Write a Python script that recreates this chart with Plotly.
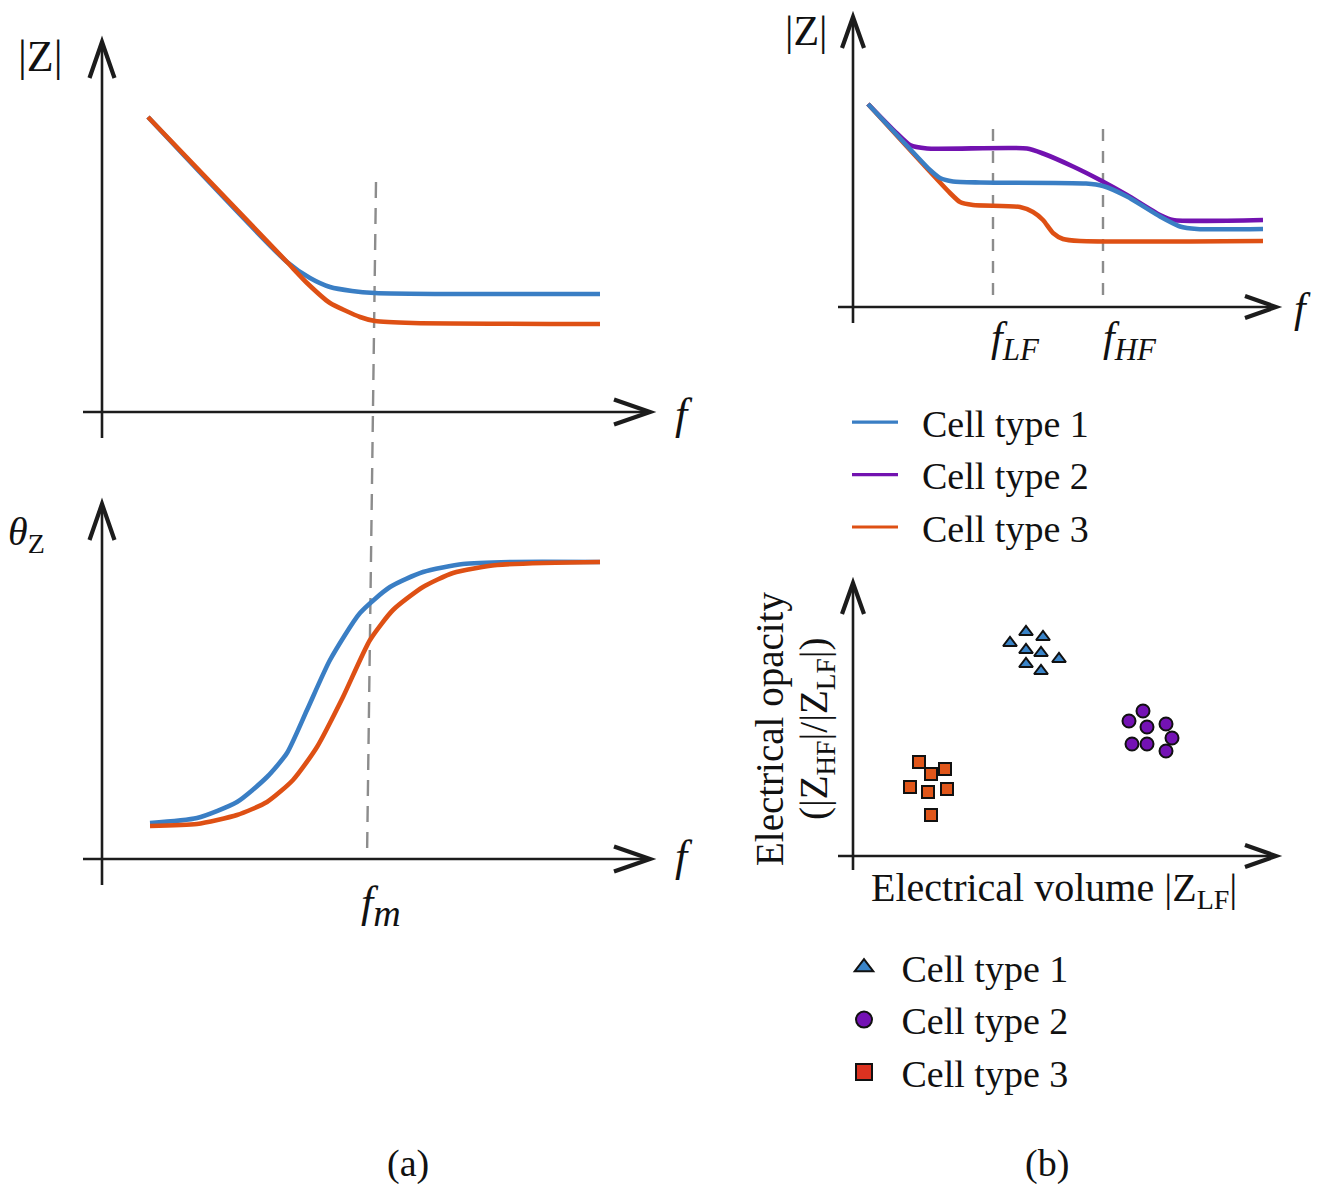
import plotly.graph_objects as go

W, H = 1329, 1184
S = 50.0  # px per data unit (same on every axis)

# ---------------- data (arbitrary units, f = log frequency) ----------------
# (a) top: |Z| versus f
a_f_blue = [0.92, 3.70, 4.16, 4.56, 5.00, 5.46, 6.96, 9.96]
a_z_blue = [5.90, 3.00, 2.68, 2.50, 2.42, 2.38, 2.36, 2.36]
a_f_orange = [0.92, 3.70, 4.10, 4.56, 5.16, 5.46, 6.22, 9.96]
a_z_orange = [5.90, 3.00, 2.58, 2.18, 1.90, 1.82, 1.78, 1.76]

# (a) bottom: phase versus f
a_f_blue_th = [0.96, 1.90, 2.70, 3.30, 3.70, 4.10, 4.56, 5.16, 5.76, 6.42, 7.22, 8.22, 9.96]
a_th_blue = [0.72, 0.82, 1.14, 1.64, 2.12, 2.98, 3.98, 4.92, 5.44, 5.74, 5.90, 5.94, 5.94]
a_f_orange_th = [0.96, 1.90, 2.70, 3.30, 3.82, 4.30, 4.82, 5.36, 5.82, 6.42, 7.02, 7.90, 9.96]
a_th_orange = [0.66, 0.70, 0.88, 1.14, 1.58, 2.24, 3.24, 4.38, 4.98, 5.44, 5.72, 5.88, 5.94]
fm_top, fm_bottom = 5.48, 5.30

# (b) top: |Z| versus f for three cell types
b_f_blue = [0.30, 1.28, 1.54, 1.74, 2.00, 2.54, 4.66, 5.00, 5.48, 6.14, 6.54, 6.88, 8.20]
b_z_blue = [4.06, 3.01, 2.74, 2.58, 2.51, 2.49, 2.47, 2.42, 2.21, 1.81, 1.61, 1.56, 1.56]
b_f_purple = [0.30, 0.88, 1.14, 1.48, 3.48, 3.80, 4.40, 4.94, 5.48, 6.14, 6.40, 8.20]
b_z_purple = [4.06, 3.47, 3.24, 3.17, 3.17, 3.07, 2.81, 2.54, 2.24, 1.84, 1.74, 1.74]
b_f_orange = [0.30, 1.94, 2.14, 2.40, 3.34, 3.60, 3.80, 4.00, 4.20, 4.54, 8.20]
b_z_orange = [4.06, 2.28, 2.10, 2.04, 2.00, 1.90, 1.74, 1.48, 1.36, 1.32, 1.32]
f_LF, f_HF = 2.80, 5.00

# (b) bottom: electrical opacity versus electrical volume
vol_1 = [3.14, 3.46, 3.80, 3.46, 3.76, 4.12, 3.46, 3.76]
opa_1 = [4.26, 4.48, 4.38, 4.12, 4.06, 3.94, 3.84, 3.70]
vol_2 = [5.80, 5.52, 5.88, 6.26, 6.38, 5.58, 5.88, 6.26]
opa_2 = [2.90, 2.70, 2.58, 2.64, 2.36, 2.24, 2.24, 2.10]
vol_3 = [1.32, 1.84, 1.56, 1.14, 1.50, 1.88, 1.56]
opa_3 = [1.88, 1.74, 1.64, 1.38, 1.28, 1.34, 0.82]

names = ["Cell type 1", "Cell type 2", "Cell type 3"]

# ---------------- styling ----------------
BLUE, PURPLE, ORANGE = "#3a7ec4", "#7212b0", "#de5014"
BLUE_M, PURPLE_M, ORANGE_M, RED_KEY = "#3a84c8", "#7412b4", "#e0561a", "#dc3220"
INK = "#1c1c1c"
GREY = "#8c8c8c"
FONT = "Liberation Serif"
LW = 4.6
NB = "\u00a0"

ORIG = {"a_x": 102, "a_top": 412, "a_bot": 859, "b_x": 853, "b_top": 307, "b_sc": 856}


def xr(ox):
    return [-ox / S, (W - ox) / S]


def yr(oy):
    return [-(H - oy) / S, oy / S]


fig = go.Figure()


def curve(x, y, xa, ya, color, group=None, smoothing=0.6):
    fig.add_trace(go.Scatter(x=x, y=y, mode="lines", xaxis=xa, yaxis=ya, showlegend=False,
                             legendgroup=group, hoverinfo="skip",
                             line=dict(color=color, width=LW, shape="spline", smoothing=smoothing)))


# panel (a)
curve(a_f_blue, a_z_blue, "x", "y", BLUE)
curve(a_f_orange, a_z_orange, "x", "y", ORANGE, smoothing=0.5)
curve(a_f_blue_th, a_th_blue, "x", "y2", BLUE)
curve(a_f_orange_th, a_th_orange, "x", "y2", ORANGE)

# panel (b) top
curve(b_f_purple, b_z_purple, "x2", "y3", PURPLE, "l2")
curve(b_f_orange, b_z_orange, "x2", "y3", ORANGE, "l3")
curve(b_f_blue, b_z_blue, "x2", "y3", BLUE, "l1")

# panel (b) bottom scatter
mk_line = dict(color="#111111", width=2)
sc = [(vol_1, opa_1, "triangle-up", 12, BLUE_M, BLUE_M),
      (vol_2, opa_2, "circle", 13, PURPLE_M, PURPLE_M),
      (vol_3, opa_3, "square", 12, ORANGE_M, RED_KEY)]
for i, (vx, vy, sym, sz, col, keycol) in enumerate(sc):
    fig.add_trace(go.Scatter(x=vx, y=vy, mode="markers", xaxis="x2", yaxis="y4", name=names[i],
                             showlegend=False, legendgroup=f"m{i+1}",
                             marker=dict(symbol=sym, size=sz, color=col, line=mk_line)))

# legend keys (line legend and marker legend)
for i, col in enumerate([BLUE, PURPLE, ORANGE]):
    fig.add_trace(go.Scatter(x=[None], y=[None], mode="lines", xaxis="x2", yaxis="y3",
                             name=NB + NB + names[i], legend="legend", legendgroup=f"l{i+1}",
                             legendrank=i + 1, line=dict(color=col, width=3.2)))
for i, (vx, vy, sym, sz, col, keycol) in enumerate(sc):
    fig.add_trace(go.Scatter(x=[None], y=[None], mode="markers", xaxis="x2", yaxis="y4",
                             name=NB + names[i], legend="legend2", legendgroup=f"m{i+1}",
                             legendrank=i + 1,
                             marker=dict(symbol=sym, size=16, color=keycol,
                                         line=dict(color="#111111", width=2))))

# ---------------- hand-drawn style axes (arrows) ----------------
shapes = []


def arrow_axis(xref, yref, x0, y0, x1, y1, back, side):
    shapes.append(dict(type="line", xref=xref, yref=yref, x0=x0, y0=y0, x1=x1, y1=y1,
                       line=dict(color=INK, width=2.6), layer="above"))
    dx, dy = x1 - x0, y1 - y0
    n = (dx * dx + dy * dy) ** 0.5
    ux, uy = dx / n, dy / n
    nx, ny = -uy, ux
    w1 = (x1 - back * ux + side * nx, y1 - back * uy + side * ny)
    w2 = (x1 - back * ux - side * nx, y1 - back * uy - side * ny)
    path = f"M{w1[0]:.3f},{w1[1]:.3f} L{x1:.3f},{y1:.3f} L{w2[0]:.3f},{w2[1]:.3f}"
    shapes.append(dict(type="path", xref=xref, yref=yref, path=path,
                       line=dict(color=INK, width=4.2), layer="above"))


ba, sa = 0.72, 0.25   # arrow head (a)
bb, sb = 0.62, 0.22   # arrow head (b)
arrow_axis("x", "y", 0, -0.52, 0, 7.40, ba, sa)
arrow_axis("x", "y", -0.38, 0, 10.96, 0, ba, sa)
arrow_axis("x", "y2", 0, -0.52, 0, 7.10, ba, sa)
arrow_axis("x", "y2", -0.38, 0, 10.96, 0, ba, sa)
arrow_axis("x2", "y3", 0, -0.32, 0, 5.80, bb, sb)
arrow_axis("x2", "y3", -0.30, 0, 8.46, 0, bb, sb)
arrow_axis("x2", "y4", 0, -0.28, 0, 5.46, bb, sb)
arrow_axis("x2", "y4", -0.30, 0, 8.46, 0, bb, sb)

# dashed markers
shapes.append(dict(type="line", xref="x", yref="y", x0=fm_top, y0=4.60, x1=fm_bottom,
                   y1=-(ORIG["a_bot"] - ORIG["a_top"]) / S,
                   line=dict(color=GREY, width=2.4, dash="16px,10px"), layer="below"))
for fv in (f_LF, f_HF):
    shapes.append(dict(type="line", xref="x2", yref="y3", x0=fv, y0=3.56, x1=fv, y1=0.04,
                       line=dict(color=GREY, width=2.4, dash="12px,10px"), layer="below"))


# ---------------- text ----------------
def P(px, py):
    return px / W, 1 - py / H


annots = []


def txt(text, px, py, size, **kw):
    x, y = P(px, py)
    d = dict(text=text, x=x, y=y, xref="paper", yref="paper", showarrow=False,
             font=dict(family=FONT, size=size, color="#111111"), xanchor="center", yanchor="middle")
    d.update(kw)
    annots.append(d)


txt("|Z|", 40, 57, 44)
txt("<i>θ</i><sub>Z</sub>", 26, 534, 40)
txt("<i>f</i>", 684, 414, 44)
txt("<i>f</i>", 684, 856, 44)
txt("<i>f</i><sub><span style='font-size:38px'><i>m</i></span></sub>", 381, 906, 44)
txt("|Z|", 806, 31, 42)
txt("<i>f</i>", 1302, 308, 42)
txt("<i>f</i><sub><span style='font-size:31px'><i>LF</i></span></sub>", 1016, 340, 42)
txt("<i>f</i><sub><span style='font-size:31px'><i>HF</i></span></sub>", 1130, 340, 42)
txt("Electrical opacity", 770, 729, 39, textangle=-90)
txt("(|Z<sub>HF</sub>|/|Z<sub>LF</sub>|)", 816, 729, 39, textangle=-90)
txt("Electrical volume |Z<sub>LF</sub>|", 1054, 890, 40)
txt("(a)", 408, 1163, 38)
txt("(b)", 1047, 1163, 38)

ax_common = dict(visible=False, domain=[0, 1], fixedrange=True, showgrid=False, zeroline=False)

lx, ly = P(847, 391)
l2x, l2y = P(836, 936)

fig.update_layout(
    width=W, height=H,
    margin=dict(l=0, r=0, t=0, b=0),
    paper_bgcolor="white", plot_bgcolor="rgba(0,0,0,0)",
    font=dict(family=FONT, color="#111111"),
    xaxis=dict(range=xr(ORIG["a_x"]), **ax_common),
    yaxis=dict(range=yr(ORIG["a_top"]), anchor="x", **ax_common),
    yaxis2=dict(range=yr(ORIG["a_bot"]), anchor="x", overlaying="y", **ax_common),
    xaxis2=dict(range=xr(ORIG["b_x"]), anchor="y3", overlaying="x", **ax_common),
    yaxis3=dict(range=yr(ORIG["b_top"]), anchor="x2", overlaying="y", **ax_common),
    yaxis4=dict(range=yr(ORIG["b_sc"]), anchor="x2", overlaying="y", **ax_common),
    shapes=shapes,
    annotations=annots,
    legend=dict(x=lx, y=ly, xanchor="left", yanchor="top", bgcolor="rgba(0,0,0,0)",
                font=dict(family=FONT, size=38, color="#111111"), traceorder="grouped",
                tracegroupgap=0, itemwidth=46),
    legend2=dict(x=l2x, y=l2y, xanchor="left", yanchor="top", bgcolor="rgba(0,0,0,0)",
                 font=dict(family=FONT, size=38, color="#111111"), traceorder="grouped",
                 tracegroupgap=0, itemwidth=46),
    showlegend=True,
)

fig.write_html("out.html", config={"displayModeBar": False},
               post_script="document.body.style.margin='0';")
